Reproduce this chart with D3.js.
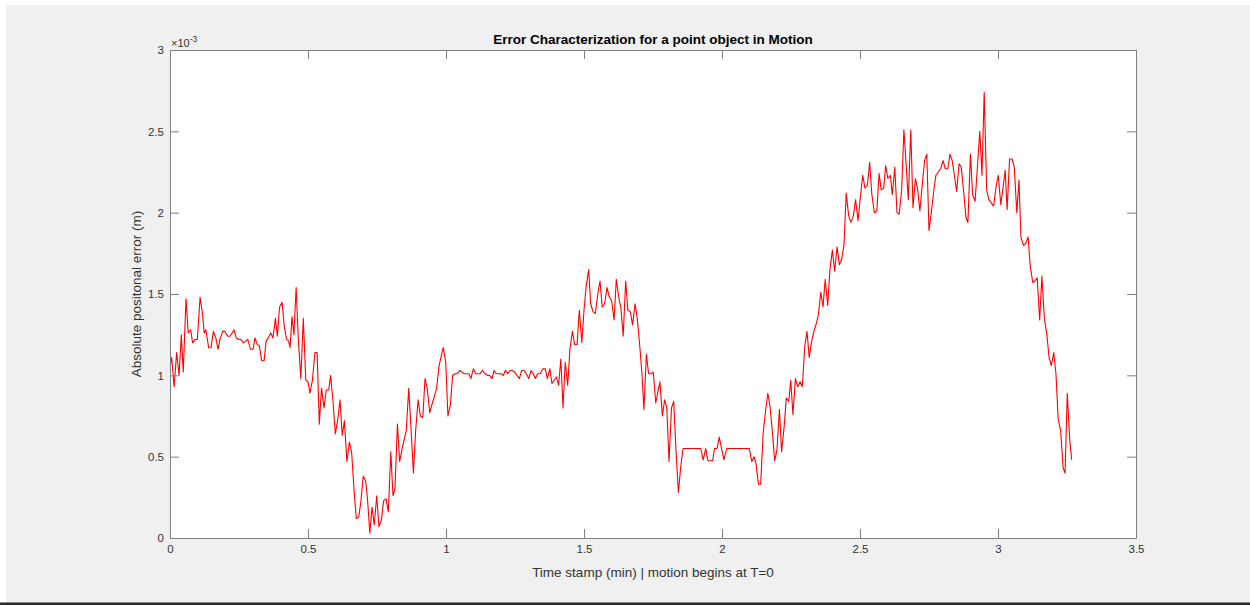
<!DOCTYPE html>
<html>
<head>
<meta charset="utf-8">
<script src="https://cdn.jsdelivr.net/npm/d3@7/dist/d3.min.js"></script>
<style>
  html, body { margin: 0; padding: 0; background: #ffffff; }
  svg { display: block; font-family: "Liberation Sans", Arial, Helvetica, sans-serif; }
</style>
</head>
<body>
<svg id="fig" width="1250" height="605"></svg>
<script>
// Time stamps (minutes since motion start)
const timeMin = [
  0.000,0.006,0.015,0.024,0.033,0.041,0.048,0.058,0.066,0.075,0.082,0.091,0.099,0.109,0.117,0.124,0.130,0.140,0.149,0.157,
  0.166,0.174,0.181,0.191,0.199,0.209,0.217,0.225,0.232,0.240,0.249,0.257,0.266,0.274,0.282,0.292,0.301,0.308,0.316,0.324,
  0.332,0.341,0.348,0.356,0.365,0.373,0.382,0.389,0.397,0.406,0.414,0.423,0.430,0.435,0.442,0.449,0.457,0.465,0.474,0.483,
  0.492,0.500,0.507,0.516,0.525,0.533,0.541,0.549,0.558,0.566,0.575,0.582,0.591,0.599,0.608,0.616,0.624,0.632,0.641,0.650,
  0.658,0.667,0.675,0.684,0.692,0.700,0.709,0.716,0.724,0.732,0.740,0.749,0.757,0.766,0.774,0.783,0.791,0.800,0.808,0.815,
  0.824,0.832,0.841,0.849,0.856,0.865,0.873,0.882,0.890,0.899,0.907,0.916,0.924,0.932,0.941,0.949,0.958,0.966,0.975,0.983,
  0.990,0.999,1.007,1.016,1.024,1.033,1.041,1.050,1.058,1.066,1.075,1.083,1.090,1.099,1.108,1.116,1.124,1.133,1.141,1.150,
  1.158,1.167,1.174,1.182,1.191,1.199,1.208,1.215,1.224,1.232,1.240,1.249,1.257,1.266,1.274,1.283,1.291,1.300,1.308,1.316,
  1.324,1.332,1.341,1.351,1.360,1.367,1.376,1.384,1.392,1.400,1.408,1.416,1.424,1.432,1.441,1.449,1.458,1.466,1.475,1.483,
  1.492,1.500,1.508,1.517,1.524,1.533,1.541,1.550,1.558,1.566,1.575,1.583,1.592,1.600,1.609,1.617,1.626,1.634,1.642,1.651,
  1.659,1.668,1.676,1.685,1.693,1.702,1.710,1.717,1.726,1.734,1.743,1.751,1.760,1.768,1.775,1.784,1.792,1.800,1.808,1.817,
  1.825,1.833,1.842,1.850,1.859,1.867,1.875,1.884,1.892,1.900,1.909,1.917,1.923,1.932,1.941,1.949,1.958,1.966,1.973,1.982,
  1.990,1.999,2.007,2.017,2.025,2.033,2.042,2.050,2.058,2.066,2.075,2.083,2.091,2.099,2.108,2.116,2.123,2.132,2.140,2.149,
  2.157,2.166,2.174,2.182,2.191,2.199,2.208,2.216,2.225,2.233,2.242,2.249,2.257,2.266,2.274,2.283,2.291,2.300,2.308,2.316,
  2.325,2.333,2.342,2.349,2.358,2.366,2.374,2.383,2.391,2.400,2.408,2.417,2.425,2.433,2.442,2.450,2.459,2.467,2.476,2.484,
  2.493,2.501,2.510,2.518,2.527,2.535,2.543,2.552,2.561,2.569,2.577,2.586,2.593,2.601,2.610,2.617,2.626,2.634,2.642,2.651,
  2.659,2.667,2.675,2.684,2.692,2.701,2.709,2.717,2.726,2.734,2.742,2.750,2.759,2.767,2.775,2.784,2.792,2.801,2.809,2.818,
  2.826,2.834,2.842,2.850,2.859,2.867,2.876,2.884,2.891,2.900,2.908,2.917,2.925,2.934,2.942,2.950,2.959,2.967,2.976,2.984,
  2.993,3.001,3.010,3.018,3.026,3.033,3.042,3.051,3.059,3.068,3.076,3.083,3.092,3.100,3.109,3.117,3.126,3.134,3.142,3.151,
  3.159,3.168,3.177,3.185,3.193,3.202,3.210,3.218,3.227,3.236,3.243,3.251,3.260,3.267
];

// Absolute positional error, in units of 1e-3 m
const errorMilli = [
  1.05,1.11,0.93,1.14,1.00,1.25,1.02,1.47,1.26,1.28,1.20,1.22,1.22,1.48,1.39,1.26,1.28,1.17,1.17,1.27,
  1.23,1.16,1.22,1.27,1.27,1.24,1.24,1.26,1.28,1.23,1.22,1.22,1.20,1.21,1.22,1.16,1.16,1.23,1.19,1.18,
  1.09,1.09,1.21,1.23,1.26,1.23,1.35,1.24,1.42,1.45,1.30,1.22,1.21,1.17,1.36,1.25,1.54,1.22,0.98,1.35,
  0.97,0.96,0.89,0.97,1.14,1.14,0.70,0.92,0.80,0.91,0.91,1.00,0.83,0.64,0.73,0.85,0.63,0.72,0.47,0.59,
  0.53,0.29,0.12,0.13,0.23,0.38,0.35,0.23,0.03,0.19,0.08,0.26,0.07,0.11,0.23,0.24,0.16,0.53,0.26,0.30,
  0.70,0.47,0.55,0.61,0.66,0.92,0.68,0.40,0.66,0.85,0.75,0.74,0.98,0.92,0.77,0.82,0.87,0.92,1.06,1.12,
  1.17,1.08,0.75,0.82,1.00,1.01,1.01,1.03,1.02,1.01,1.01,1.01,0.98,1.04,1.01,1.01,1.01,1.03,1.01,1.00,
  1.00,0.98,1.03,1.01,1.01,1.01,1.00,1.03,1.01,1.03,1.03,1.02,1.00,0.98,1.03,1.03,1.01,0.98,1.03,1.01,
  0.98,1.01,1.01,1.04,1.04,0.98,1.04,0.95,0.97,0.99,0.94,1.10,0.80,1.08,0.94,1.16,1.27,1.19,1.19,1.40,
  1.20,1.40,1.55,1.65,1.44,1.39,1.38,1.50,1.58,1.42,1.44,1.54,1.48,1.46,1.34,1.59,1.48,1.41,1.24,1.58,
  1.40,1.39,1.31,1.44,1.35,1.18,1.01,0.79,1.13,1.01,1.01,1.02,0.83,0.90,0.96,0.75,0.85,0.80,0.47,0.80,
  0.84,0.55,0.28,0.43,0.55,0.55,0.55,0.55,0.55,0.55,0.55,0.55,0.55,0.48,0.55,0.475,0.475,0.475,0.55,0.55,
  0.62,0.545,0.48,0.55,0.55,0.55,0.55,0.55,0.55,0.55,0.55,0.55,0.55,0.55,0.47,0.50,0.46,0.33,0.33,0.64,
  0.77,0.89,0.81,0.66,0.475,0.54,0.79,0.53,0.68,0.86,0.84,0.97,0.76,0.98,0.93,0.96,0.93,1.18,1.27,1.11,
  1.21,1.27,1.32,1.37,1.51,1.42,1.59,1.43,1.65,1.77,1.64,1.79,1.68,1.71,1.80,2.12,1.98,1.94,1.98,2.08,
  1.95,2.09,2.23,2.15,2.17,2.31,2.11,2.00,2.01,2.24,2.14,2.15,2.29,2.21,2.23,2.11,2.28,2.00,1.99,2.14,
  2.51,2.30,2.08,2.51,2.03,2.21,2.14,2.01,2.18,2.32,2.36,1.89,2.01,2.13,2.23,2.25,2.27,2.32,2.27,2.27,
  2.36,2.32,2.23,2.13,2.30,2.28,2.12,1.97,1.94,2.36,2.11,2.07,2.27,2.50,2.23,2.74,2.14,2.08,2.06,2.04,
  2.16,2.23,2.05,2.15,2.26,2.02,2.33,2.33,2.28,2.00,2.20,1.85,1.80,1.81,1.85,1.67,1.57,1.58,1.60,1.34,
  1.61,1.35,1.25,1.11,1.06,1.14,1.01,0.73,0.66,0.43,0.40,0.89,0.60,0.48
];

const xTicks = [0, 0.5, 1, 1.5, 2, 2.5, 3, 3.5];
const yTicks = [0, 0.5, 1, 1.5, 2, 2.5, 3];

const titleText = "Error Characterization for a point object in Motion";
const xLabelText = "Time stamp (min) | motion begins at T=0";
const yLabelText = "Absolute positonal error (m)";

const W = 1250, H = 605;
const box = { left: 170, right: 1136, top: 50, bottom: 538 };
const axisColor = "#808080";
const textColor = "#333333";
const tickLen = 9;

const svg = d3.select("#fig");

// figure window background
svg.append("rect").attr("x", 6).attr("y", 5).attr("width", W - 6).attr("height", H - 7).attr("fill", "#f0f0f0");
svg.append("rect").attr("x", 0).attr("y", H - 2.5).attr("width", W).attr("height", 2.5).attr("fill", "#2b2b2b");

const x = d3.scaleLinear().domain([0, 3.5]).range([box.left, box.right]);
const y = d3.scaleLinear().domain([0, 3]).range([box.bottom, box.top]);

// axes background
svg.append("rect")
  .attr("x", box.left).attr("y", box.top)
  .attr("width", box.right - box.left).attr("height", box.bottom - box.top)
  .attr("fill", "#ffffff");

// data line (clipped to the axes box)
svg.append("clipPath").attr("id", "plotClip")
  .append("rect")
  .attr("x", box.left).attr("y", box.top)
  .attr("width", box.right - box.left).attr("height", box.bottom - box.top);

const pts = timeMin.map((t, i) => [t, errorMilli[i]]);
svg.append("path")
  .datum(pts)
  .attr("clip-path", "url(#plotClip)")
  .attr("fill", "none")
  .attr("stroke", "#ff0000")
  .attr("stroke-width", 1.1)
  .attr("stroke-linejoin", "round")
  .attr("d", d3.line().x(d => x(d[0])).y(d => y(d[1])));

// axes, ticks pointing inward on all four sides
function styleAxis(g) {
  g.select(".domain").attr("stroke", axisColor).attr("stroke-width", 1);
  g.selectAll(".tick line").attr("stroke", axisColor).attr("stroke-width", 1);
  g.selectAll(".tick text").attr("fill", textColor).attr("font-size", 11.5);
  g.attr("font-family", null);
}

const xBottom = svg.append("g")
  .attr("transform", `translate(0,${box.bottom})`)
  .call(d3.axisBottom(x).tickValues(xTicks).tickFormat(d3.format("")).tickSizeInner(-tickLen).tickSizeOuter(0).tickPadding(7));
styleAxis(xBottom);

const xTop = svg.append("g")
  .attr("transform", `translate(0,${box.top})`)
  .call(d3.axisTop(x).tickValues(xTicks).tickFormat("").tickSizeInner(-tickLen).tickSizeOuter(0));
styleAxis(xTop);

const yLeft = svg.append("g")
  .attr("transform", `translate(${box.left},0)`)
  .call(d3.axisLeft(y).tickValues(yTicks).tickFormat(d3.format("")).tickSizeInner(-tickLen).tickSizeOuter(0).tickPadding(6));
styleAxis(yLeft);

const yRight = svg.append("g")
  .attr("transform", `translate(${box.right},0)`)
  .call(d3.axisRight(y).tickValues(yTicks).tickFormat("").tickSizeInner(-tickLen).tickSizeOuter(0));
styleAxis(yRight);

// exponent marker above the y axis
const expo = svg.append("text")
  .attr("x", box.left + 1).attr("y", box.top - 3)
  .attr("fill", textColor).attr("font-size", 11);
expo.append("tspan").text("\u00d710");
expo.append("tspan").attr("dy", -5).attr("font-size", 8.5).text("-3");

// title and axis labels
svg.append("text")
  .attr("x", (box.left + box.right) / 2).attr("y", 44)
  .attr("text-anchor", "middle").attr("font-weight", "bold").attr("font-size", 13.5)
  .attr("fill", "#000000").text(titleText);

svg.append("text")
  .attr("x", (box.left + box.right) / 2).attr("y", 577)
  .attr("text-anchor", "middle").attr("font-size", 13.5)
  .attr("fill", textColor).text(xLabelText);

svg.append("text")
  .attr("transform", `translate(141,${(box.top + box.bottom) / 2}) rotate(-90)`)
  .attr("text-anchor", "middle").attr("font-size", 13.5)
  .attr("fill", textColor).text(yLabelText);
</script>
</body>
</html>
